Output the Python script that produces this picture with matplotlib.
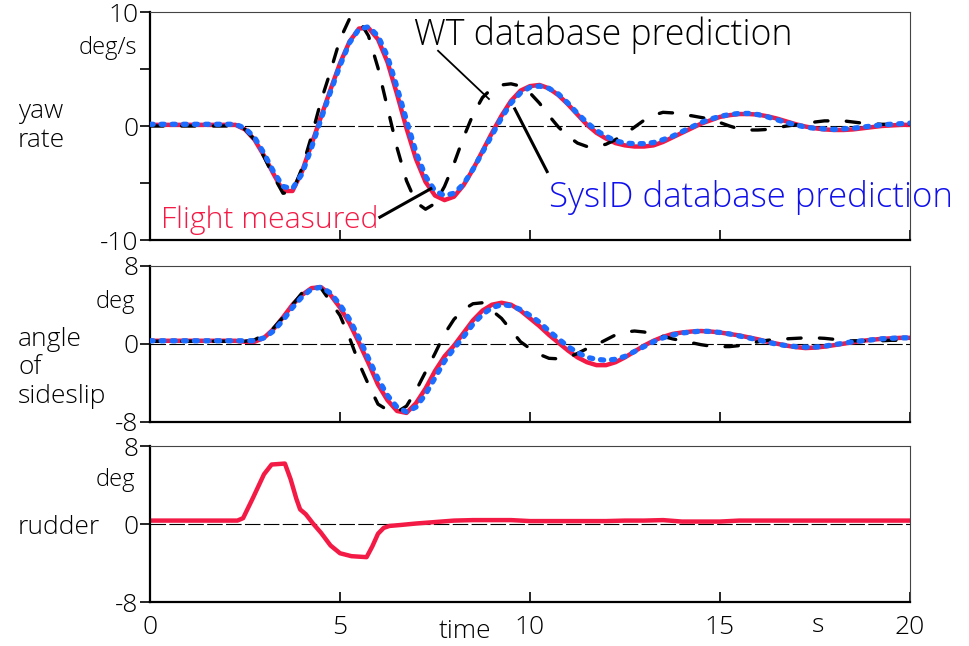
import matplotlib.pyplot as plt

plt.rcParams['font.family'] = ['Open Sans', 'DejaVu Sans']
plt.rcParams['font.weight'] = 300

# sampling times of the response traces (s)
t_resp = [0, 1, 2, 2.25,
          2.5, 2.75,
          3.0, 3.25, 3.5, 3.75,
          4.0, 4.25, 4.5, 4.75,
          5.0, 5.25, 5.5, 5.75,
          6.0, 6.25, 6.5, 6.75,
          7.0, 7.25, 7.5, 7.75,
          8.0, 8.25, 8.5, 8.75,
          9.0, 9.25, 9.5, 9.75,
          10.0, 10.25, 10.5, 10.75,
          11.0, 11.25, 11.5, 11.75,
          12.0, 12.25, 12.5, 12.75,
          13.0, 13.25, 13.5, 13.75,
          14.0, 14.25, 14.5, 14.75,
          15.0, 15.25, 15.5, 15.75,
          16.0, 16.25, 16.5, 16.75,
          17.0, 17.25, 17.5, 17.75,
          18.0, 18.25, 18.5, 18.75,
          19.0, 19.25, 19.5, 19.75,
          20.0]

# yaw rate (deg/s)
yaw_flight = [0.1, 0.1, 0.1, 0.1,
              -0.3, -1.2,
              -2.6, -4.2, -5.7, -5.7,
              -4.0, -1.6, 0.8, 3.2,
              5.5, 7.4, 8.55, 8.6,
              7.6, 5.6, 2.8, -0.2,
              -2.9, -4.9, -6.1, -6.5,
              -6.2, -5.2, -3.8, -2.2,
              -0.6, 0.9, 2.2, 3.1,
              3.5, 3.6, 3.3, 2.7,
              1.9, 1.0, 0.1, -0.6,
              -1.1, -1.5, -1.7, -1.8,
              -1.8, -1.7, -1.4, -1.0,
              -0.6, -0.2, 0.2, 0.5,
              0.8, 0.95, 1.05, 1.05,
              1.0, 0.85, 0.65, 0.4,
              0.15, -0.05, -0.2, -0.3,
              -0.35, -0.35, -0.3, -0.2,
              -0.1, 0.0, 0.05, 0.1,
              0.1]
yaw_sysid = [0.15, 0.15, 0.15, 0.15,
             -0.2, -1.0,
             -2.4, -4.0, -5.3, -5.5,
             -4.2, -1.9, 0.6, 3.0,
             5.3, 7.3, 8.5, 8.7,
             7.9, 6.1, 3.4, 0.5,
             -2.3, -4.4, -5.7, -6.1,
             -5.9, -5.1, -3.8, -2.3,
             -0.8, 0.7, 2.0, 2.9,
             3.4, 3.5, 3.3, 2.8,
             2.0, 1.1, 0.3, -0.4,
             -0.9, -1.3, -1.5, -1.55,
             -1.55, -1.45, -1.2, -0.9,
             -0.5, -0.1, 0.3, 0.6,
             0.85, 1.0, 1.1, 1.1,
             1.0, 0.8, 0.55, 0.3,
             0.1, -0.1, -0.2, -0.25,
             -0.3, -0.25, -0.2, -0.1,
             0.0, 0.1, 0.15, 0.2,
             0.25]
yaw_wt = [0.0, 0.0, 0.0, 0.0,
          -0.3, -1.2,
          -2.7, -4.4, -5.9, -5.8,
          -3.7, -0.9, 2.2, 4.8,
          7.6, 9.4, 9.3, 7.9,
          5.1, 1.6, -1.9, -4.8,
          -6.7, -7.3, -6.8, -5.3,
          -3.3, -1.0, 1.0, 2.5,
          3.3, 3.6, 3.7, 3.5,
          2.9, 2.0, 0.9, -0.1,
          -0.9, -1.5, -1.8, -1.8,
          -1.6, -1.2, -0.7, -0.1,
          0.5, 0.95, 1.2, 1.15,
          1.0, 0.9, 0.75, 0.6,
          0.3, 0.0, -0.25, -0.35,
          -0.35, -0.3, -0.15, 0.0,
          0.1, 0.2, 0.35, 0.45,
          0.45, 0.45, 0.35, 0.25,
          0.2, 0.15, 0.15, 0.15,
          0.15]

# angle of sideslip (deg)
beta_flight = [0.3, 0.3, 0.3, 0.3,
               0.2, 0.2,
               0.6, 1.5, 2.7, 4.0,
               5.0, 5.7, 5.8, 5.0,
               3.7, 2.1, 0.1, -2.0,
               -4.2, -5.8, -6.9, -7.1,
               -6.1, -4.6, -2.8, -1.3,
               -0.2, 1.1, 2.4, 3.4,
               4.0, 4.2, 4.0, 3.4,
               2.6, 1.8, 0.9, 0.1,
               -0.7, -1.4, -1.9, -2.2,
               -2.2, -1.9, -1.4, -0.8,
               -0.2, 0.3, 0.7, 1.0,
               1.15, 1.25, 1.3, 1.25,
               1.15, 1.0, 0.85, 0.65,
               0.45, 0.2, 0.0, -0.2,
               -0.35, -0.45, -0.4, -0.3,
               -0.15, 0.0, 0.15, 0.3,
               0.4, 0.5, 0.55, 0.6,
               0.6]
beta_sysid = [0.3, 0.3, 0.3, 0.3,
              0.3, 0.3,
              0.6, 1.3, 2.4, 3.7,
              4.8, 5.6, 5.8, 5.2,
              4.0, 2.5, 0.6, -1.5,
              -3.6, -5.3, -6.5, -7.0,
              -6.5, -5.2, -3.5, -1.8,
              -0.5, 0.7, 2.0, 3.0,
              3.7, 4.0, 3.9, 3.5,
              2.9, 2.2, 1.3, 0.5,
              -0.3, -0.9, -1.4, -1.6,
              -1.7, -1.6, -1.3, -0.8,
              -0.3, 0.2, 0.6, 0.9,
              1.1, 1.2, 1.3, 1.25,
              1.15, 1.0, 0.8, 0.6,
              0.4, 0.15, -0.05, -0.2,
              -0.3, -0.35, -0.35, -0.25,
              -0.1, 0.05, 0.2, 0.3,
              0.4, 0.5, 0.55, 0.6,
              0.6]
beta_wt = [0.25, 0.25, 0.25, 0.25,
           0.25, 0.4,
           0.9, 1.6, 2.7, 4.0,
           5.2, 5.9, 5.7, 4.3,
           2.9, 0.6, -2.0, -4.2,
           -6.2, -6.8, -7.0, -6.4,
           -4.8, -2.9, -1.0, 1.0,
           2.5, 3.5, 4.1, 4.2,
           3.4, 2.6, 1.4, 0.2,
           -0.5, -1.1, -1.5, -1.55,
           -1.4, -1.0, -0.5, -0.1,
           0.4, 0.9, 1.2, 1.3,
           1.2, 1.0, 0.75, 0.5,
           0.3, 0.1, -0.1, -0.25,
           -0.3, -0.3, -0.2, 0.0,
           0.2, 0.35, 0.45, 0.5,
           0.55, 0.6, 0.6, 0.55,
           0.45, 0.35, 0.3, 0.3,
           0.3, 0.3, 0.35, 0.35,
           0.4]

# rudder input (deg)
t_rudder = [0, 2.3, 2.45, 2.7, 3.0, 3.2, 3.55, 3.7, 3.85, 3.95,
            4.1, 4.3, 4.5, 4.75, 5.0, 5.3, 5.7, 5.85, 6.0, 6.15,
            6.3, 6.6, 7.0, 7.5, 8.0, 8.5, 9.0, 9.5, 10.0, 11.0,
            12.0, 12.5, 13.0, 13.5, 14.0, 15.0, 15.5, 16.0, 17.0, 18.0,
            19.0, 20.0]
rudder = [0.35, 0.35, 0.6, 2.6, 5.1, 6.1, 6.2, 4.6, 2.6, 1.5,
          1.0, 0.0, -0.9, -2.2, -3.0, -3.3, -3.4, -2.3, -1.0, -0.4,
          -0.2, -0.1, 0.05, 0.2, 0.35, 0.4, 0.4, 0.4, 0.3, 0.3,
          0.3, 0.35, 0.35, 0.4, 0.25, 0.25, 0.35, 0.35, 0.35, 0.35,
          0.35, 0.35]

RED = '#f31a45'
BLUE = '#1b6cff'
W, H = 969, 646


def fx(px):
    return px / W


def fy(py):
    return 1 - py / H


fig = plt.figure(figsize=(9.69, 6.46), dpi=100)
ax1 = fig.add_axes([fx(150), fy(240), 760 / W, 228 / H])
ax2 = fig.add_axes([fx(150), fy(421.7), 760 / W, 156 / H])
ax3 = fig.add_axes([fx(150), fy(602), 760 / W, 156 / H])


def style(ax, lim, yticks, ylabels, xlabels):
    ax.set_xlim(0, 20)
    ax.set_ylim(-lim, lim)
    ax.axhline(0, color='black', lw=0.8, dashes=(14, 3), zorder=0)
    for side in ('left', 'bottom'):
        ax.spines[side].set_linewidth(1.6)
    for side in ('top', 'right'):
        ax.spines[side].set_linewidth(0.8)
        ax.spines[side].set_color('#444444')
    ax.set_yticks(yticks)
    ax.set_yticklabels(ylabels, fontsize=19)
    ax.tick_params(axis='y', direction='out', length=7, width=1.2, pad=1.5)
    ax.set_xticks([0, 5, 10, 15, 20])
    ax.tick_params(axis='x', direction='in', length=7, width=1.2, pad=9)
    if xlabels:
        ax.set_xticklabels(['0', '5', '10', '15', '20'], fontsize=19)
    else:
        ax.set_xticklabels([])


style(ax1, 10, [-10, -5, 0, 5, 10], ['-10', '', '0', '', '10'], False)
style(ax2, 8, [-8, 0, 8], ['-8', '0', '8'], False)
style(ax3, 8, [-8, 0, 8], ['-8', '0', '8'], True)


def traces(ax, flight, sysid, wt):
    ax.plot(t_resp, flight, color=RED, lw=3.2, solid_capstyle='round', zorder=2)
    ax.plot(t_resp, wt, color='black', lw=2.4, dashes=(4.0, 5.5),
            dash_capstyle='round', zorder=3)
    ax.plot(t_resp, sysid, color=BLUE, lw=3.8, dashes=(0.6, 1.5),
            dash_capstyle='round', zorder=4)


traces(ax1, yaw_flight, yaw_sysid, yaw_wt)
traces(ax2, beta_flight, beta_sysid, beta_wt)
ax3.plot(t_rudder, rudder, color=RED, lw=3.2, zorder=2)

# annotation leader lines
ax1.plot([7.58, 8.92], [6.6, 2.37], color='black', lw=1.3, zorder=5)
ax1.plot([10.45, 9.6], [-4.0, 1.5], color='black', lw=2.2, zorder=5)
ax1.plot([6.05, 7.39], [-8.0, -5.5], color='black', lw=2.2, zorder=5)

fig.text(fx(414), fy(45), 'WT database prediction', fontsize=25.7, color='black')
fig.text(fx(549), fy(207), 'SysID database prediction', fontsize=25, color='#1010ee')
fig.text(fx(161), fy(228), 'Flight measured', fontsize=21.8, color=RED)

# axis captions
fig.text(fx(18), fy(126), 'yaw\nrate', fontsize=19, va='center', ha='left', linespacing=1.25)
fig.text(fx(18), fy(368), 'angle\nof\nsideslip', fontsize=19, va='center', ha='left', linespacing=1.2)
fig.text(fx(18), fy(527), 'rudder', fontsize=19, va='center', ha='left')
fig.text(fx(137), fy(48), 'deg/s', fontsize=17, va='center', ha='right')
fig.text(fx(135), fy(302), 'deg', fontsize=17, va='center', ha='right')
fig.text(fx(135), fy(480), 'deg', fontsize=17, va='center', ha='right')
fig.text(fx(465), fy(632), 'time', fontsize=19, va='center', ha='center')
fig.text(fx(818), fy(626), 's', fontsize=19, va='center', ha='center')

fig.savefig('out.png', dpi=100)
